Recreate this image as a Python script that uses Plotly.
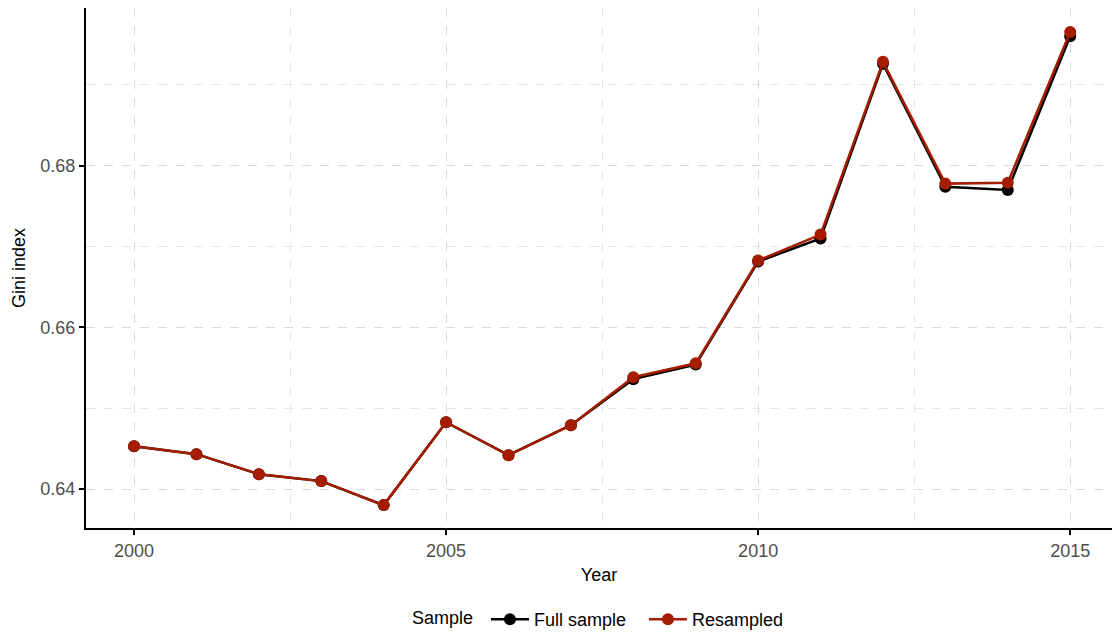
import plotly.graph_objects as go

years = list(range(2000, 2016))
full_sample = [0.64531, 0.64432, 0.64185, 0.64099, 0.63802, 0.64827, 0.64420, 0.64790,
               0.65360, 0.65540, 0.66815, 0.67099, 0.69260, 0.67740, 0.67700, 0.69600]
resampled = [0.64531, 0.64432, 0.64185, 0.64099, 0.63802, 0.64827, 0.64420, 0.64790,
             0.65383, 0.65556, 0.66827, 0.67148, 0.69284, 0.67778, 0.67790, 0.69654]

RED = "#A51C00"
FONT = "Liberation Sans, Arial, sans-serif"

fig = go.Figure()
fig.add_trace(go.Scatter(x=years, y=full_sample, name="Full sample", mode="lines+markers",
                         line=dict(color="black", width=2.5),
                         marker=dict(color="black", size=12)))
fig.add_trace(go.Scatter(x=years, y=resampled, name="Resampled", mode="lines+markers",
                         line=dict(color=RED, width=2.5),
                         marker=dict(color=RED, size=12)))

grid = dict(showgrid=True, gridcolor="#d9d9d9", griddash="dash", gridwidth=1)
fig.update_layout(
    width=1112, height=638,
    margin=dict(l=86, r=0, t=8, b=109),
    paper_bgcolor="white", plot_bgcolor="white",
    font=dict(family=FONT, size=18, color="black"),
    showlegend=True,
    legend=dict(orientation="h", x=0.3157, xanchor="left", y=-0.177, yanchor="middle",
                title=dict(text="Sample ", side="left", font=dict(size=18)),
                font=dict(size=18), itemwidth=38, entrywidth=105),
    xaxis=dict(range=[1999.23, 2015.67], tickvals=[2000, 2005, 2010, 2015],
               ticktext=["2000", "2005", "2010", "2015"],
               showline=True, linecolor="black", linewidth=2,
               ticks="outside", ticklen=5, tickwidth=1.5, tickcolor="black",
               tickfont=dict(size=18, color="#4d4d4d"),
               title=dict(text="Year", font=dict(size=18), standoff=9),
               zeroline=False,
               minor=dict(tickvals=[2002.5, 2007.5, 2012.5], showgrid=True,
                          gridcolor="#e6e6e6", griddash="dash", gridwidth=1, ticks=""),
               **grid),
    yaxis=dict(range=[0.63519, 0.6995], tickvals=[0.64, 0.66, 0.68],
               ticktext=["0.64", "0.66", "0.68"],
               showline=True, linecolor="black", linewidth=2,
               ticks="outside", ticklen=5, tickwidth=1.5, tickcolor="black",
               tickfont=dict(size=18, color="#4d4d4d"),
               title=dict(text="Gini index", font=dict(size=18), standoff=10),
               zeroline=False,
               minor=dict(tickvals=[0.65, 0.67, 0.69], showgrid=True,
                          gridcolor="#e6e6e6", griddash="dash", gridwidth=1, ticks=""),
               **grid),
)

fig.write_html("out.html")
